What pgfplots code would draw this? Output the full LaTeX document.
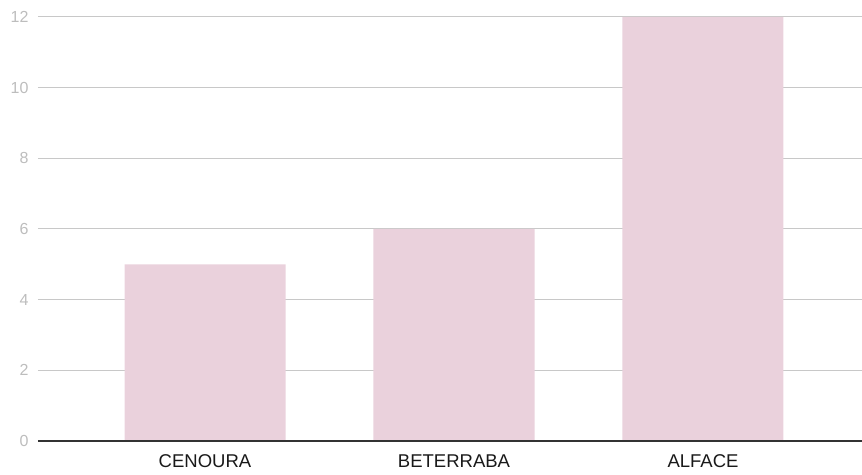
\documentclass[border=0pt]{standalone}
\usepackage{pgfplots}
\pgfplotsset{compat=1.18}
\usepackage{fontspec}
\setmainfont{Liberation Sans}
\definecolor{barc}{HTML}{EAD1DC}
\definecolor{gridc}{HTML}{C8C8C8}
\definecolor{tickc}{HTML}{BDBDBD}
\definecolor{axc}{HTML}{333333}
\begin{document}
\begin{tikzpicture}[x=1pt,y=1pt]
\path[use as bounding box] (-38,-33) rectangle (824,441);
\begin{axis}[
  at={(0,0)}, anchor=south west,
  scale only axis, width=824pt, height=424pt,
  xmin=-0.6707, xmax=2.6386, ymin=0, ymax=12,
  ytick={0,2,...,12},
  xtick={0,1,2},
  xticklabels={CENOURA,BETERRABA,ALFACE},
  axis line style={draw=none},
  major tick length=0pt,
  ymajorgrids, grid style={gridc, line width=1pt},
  /pgf/number format/assume math mode=true,
  yticklabel style={font=\fontsize{16}{16}\selectfont, text=tickc, anchor=east, xshift=-6pt},
  xticklabel style={font=\fontsize{18.5}{18.5}\selectfont, text=black!90, anchor=center, yshift=-20pt},
  clip=false,
]
\addplot[ybar, bar width=161pt, fill=barc, draw=none] coordinates {(0,5) (1,6) (2,12)};
\draw[axc, line width=1.2pt] (axis cs:-0.6707,0) -- (axis cs:2.6386,0);
\end{axis}
\end{tikzpicture}
\end{document}
